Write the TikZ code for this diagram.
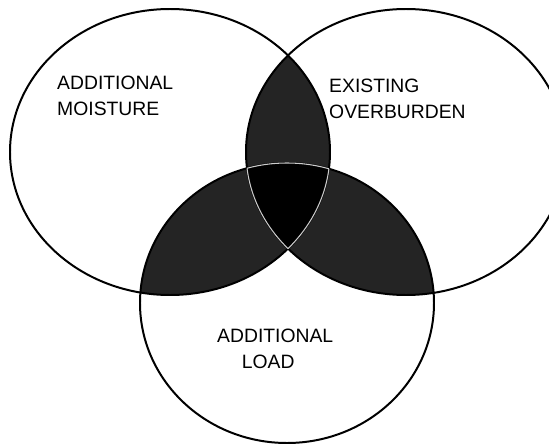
\documentclass[tikz,border=0pt]{standalone}
\usepackage{fontspec}
\setmainfont{Liberation Sans}

\tikzset{
    ring/.style={draw=black, line width=1.7pt},
    shade/.style={fill=black!86},
    core/.style={fill=black},
    seam/.style={draw=gray!40, line width=0.9pt},
    lbl/.style={font=\fontsize{16.5}{22}\selectfont, align=left, inner sep=0pt, anchor=north west}
}

\begin{document}
\begin{tikzpicture}[x=0.03cm, y=-0.03cm, line join=round, line cap=round]
    % 画面大小
    \clip (0,0) rectangle (549,445);
    
    % 三个圆的中心
    \coordinate (M) at (170,152); % moisture
    \coordinate (O) at (406,152); % overburden
    \coordinate (L) at (287,303); % load
    
    % 两两相交（深色）
    \begin{scope}
        \clip (M) ellipse [x radius=160, y radius=143];
        \fill[shade] (O) ellipse [x radius=160, y radius=143];
        \fill[shade] (L) ellipse [x radius=147, y radius=140];
    \end{scope}
    \begin{scope}
        \clip (O) ellipse [x radius=160, y radius=143];
        \fill[shade] (L) ellipse [x radius=147, y radius=140];
    \end{scope}
    
    % 三者相交（黑色）
    \begin{scope}
        \clip (M) ellipse [x radius=160, y radius=143];
        \clip (O) ellipse [x radius=160, y radius=143];
        \fill[core] (L) ellipse [x radius=147, y radius=140];
    \end{scope}
    
    % 圆周
    \draw[ring] (M) ellipse [x radius=160, y radius=143];
    \draw[ring] (O) ellipse [x radius=160, y radius=143];
    \draw[ring] (L) ellipse [x radius=147, y radius=140];
    
    % 内部分界线（浅色）
    \begin{scope}
        \clip (M) ellipse [x radius=160, y radius=143];
        \clip (O) ellipse [x radius=160, y radius=143];
        \draw[seam] (L) ellipse [x radius=147, y radius=140];
    \end{scope}
    \begin{scope}
        \clip (M) ellipse [x radius=160, y radius=143];
        \clip (L) ellipse [x radius=147, y radius=140];
        \draw[seam] (O) ellipse [x radius=160, y radius=143];
    \end{scope}
    \begin{scope}
        \clip (O) ellipse [x radius=160, y radius=143];
        \clip (L) ellipse [x radius=147, y radius=140];
        \draw[seam] (M) ellipse [x radius=160, y radius=143];
    \end{scope}
    
    % 文字
    \node[lbl] (moist) at (57,76) {ADDITIONAL\\MOISTURE};
    \node[lbl] (burden) at (329,79) {EXISTING\\OVERBURDEN};
    \node[lbl] (load) at (217,329) {ADDITIONAL\\\hspace*{21pt}LOAD};
\end{tikzpicture}
\end{document}
